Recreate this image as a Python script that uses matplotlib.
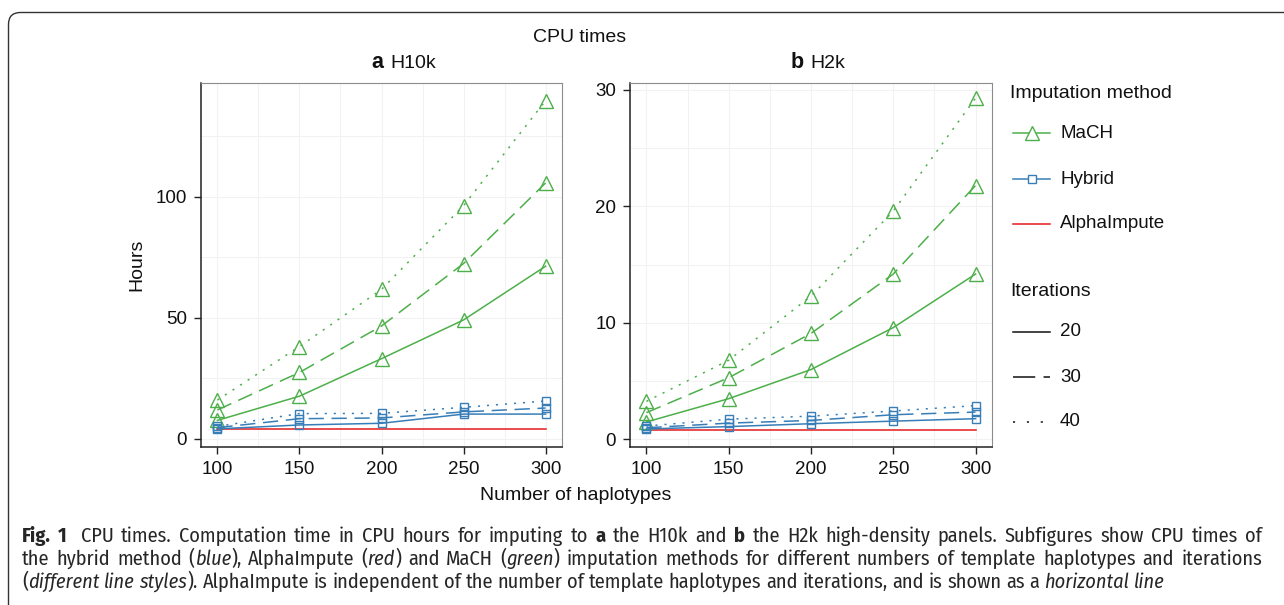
import matplotlib
matplotlib.use("Agg")
import matplotlib.pyplot as plt
from matplotlib.lines import Line2D
from matplotlib.patches import FancyBboxPatch
from matplotlib import font_manager

# ---------------- data ----------------
haplotypes = [100, 150, 200, 250, 300]
iterations = [20, 30, 40]

mach_h10k_20 = [7.5, 17.5, 33.0, 49.0, 71.2]
mach_h10k_30 = [11.8, 27.3, 46.5, 72.3, 105.6]
mach_h10k_40 = [15.9, 38.0, 61.6, 96.2, 139.6]
hybrid_h10k_20 = [4.0, 5.6, 6.3, 10.1, 10.1]
hybrid_h10k_30 = [4.5, 8.2, 8.5, 11.0, 12.6]
hybrid_h10k_40 = [5.0, 10.3, 10.4, 12.9, 15.5]
alpha_h10k = [3.8, 3.8, 3.8, 3.8, 3.8]

mach_h2k_20 = [1.5, 3.5, 6.0, 9.6, 14.2]
mach_h2k_30 = [2.3, 5.3, 9.1, 14.2, 21.8]
mach_h2k_40 = [3.27, 6.8, 12.3, 19.6, 29.3]
hybrid_h2k_20 = [0.9, 1.1, 1.35, 1.57, 1.78]
hybrid_h2k_30 = [1.0, 1.4, 1.63, 2.12, 2.35]
hybrid_h2k_40 = [1.15, 1.74, 2.0, 2.44, 2.9]
alpha_h2k = [0.77, 0.77, 0.77, 0.77, 0.77]

panel_titles = [("a", "H10k"), ("b", "H2k")]
yticks_a = [0, 50, 100]
yticks_b = [0, 10, 20, 30]
xticks = [100, 150, 200, 250, 300]
method_labels = ["MaCH", "Hybrid", "AlphaImpute"]

caption_lines = [
    [("Fig. 1", "b"), ("  CPU times. Computation time in CPU hours for imputing to ", "n"), ("a", "b"),
     (" the H10k and ", "n"), ("b", "b"), (" the H2k high-density panels. Subfigures show CPU times of", "n")],
    [("the hybrid method (", "n"), ("blue", "i"), ("), AlphaImpute (", "n"), ("red", "i"),
     (") and MaCH (", "n"), ("green", "i"),
     (") imputation methods for different numbers of template haplotypes and iterations", "n")],
    [("(", "n"), ("different line styles", "i"),
     ("). AlphaImpute is independent of the number of template haplotypes and iterations, and is shown as a ", "n"),
     ("horizontal line", "i")],
]

# ---------------- styles ----------------
GREEN = "#4DAF4A"
BLUE = "#377EB8"
RED = "#E41A1C"
W, H = 1284, 605
DPI = 100
plt.rcParams["lines.scale_dashes"] = False
plt.rcParams["font.family"] = ["Liberation Sans", "DejaVu Sans"]
FS = 13.5

ls_map = {20: "-", 30: (0, (11, 5.5)), 40: (0, (1.5, 5))}

fig = plt.figure(figsize=(W / DPI, H / DPI), dpi=DPI)


def px_axes(left, top, right, bottom):
    return fig.add_axes([left / W, 1 - bottom / H, (right - left) / W, (bottom - top) / H])


def style_axes(ax, yticks, ylim):
    ax.set_xlim(90, 310)
    ax.set_ylim(*ylim)
    ax.set_xticks(xticks)
    ax.set_yticks(yticks)
    minor_x = [125, 175, 225, 275]
    minor_y = [(yticks[i] + yticks[i + 1]) / 2 for i in range(len(yticks) - 1)]
    if ylim[1] > yticks[-1] + (yticks[1] - yticks[0]) / 2:
        minor_y.append(yticks[-1] + (yticks[1] - yticks[0]) / 2)
    for x in xticks + minor_x:
        ax.axvline(x, color="#F2F2F2", lw=0.8, zorder=0)
    for y in yticks + minor_y:
        ax.axhline(y, color="#F2F2F2", lw=0.8, zorder=0)
    ax.tick_params(axis="both", direction="out", length=5, width=1, color="#222222",
                   labelsize=FS, pad=5, labelcolor="#111111")
    ax.spines["left"].set_color("#222222")
    ax.spines["bottom"].set_color("#222222")
    ax.spines["left"].set_linewidth(1.1)
    ax.spines["bottom"].set_linewidth(1.1)
    ax.spines["top"].set_color("#8C8C8C")
    ax.spines["right"].set_color("#8C8C8C")
    ax.spines["top"].set_linewidth(0.8)
    ax.spines["right"].set_linewidth(0.8)


def draw_panel(ax, mach, hybrid, alpha):
    for it, vals in zip(iterations, mach):
        ax.plot(haplotypes, vals, color=GREEN, lw=1.1, ls=ls_map[it], marker="^", ms=9.5,
                mfc="none", mec=GREEN, mew=1.0, zorder=3)
    for it, vals in zip(iterations, hybrid):
        ax.plot(haplotypes, vals, color=BLUE, lw=1.1, ls=ls_map[it], marker="s", ms=6,
                mfc="none", mec=BLUE, mew=1.0, zorder=3)
    ax.plot(haplotypes, alpha, color=RED, lw=1.1, zorder=2)


ax_a = px_axes(201, 83, 562, 447)
ax_b = px_axes(630, 83, 992, 447)
draw_panel(ax_a, [mach_h10k_20, mach_h10k_30, mach_h10k_40],
           [hybrid_h10k_20, hybrid_h10k_30, hybrid_h10k_40], alpha_h10k)
draw_panel(ax_b, [mach_h2k_20, mach_h2k_30, mach_h2k_40],
           [hybrid_h2k_20, hybrid_h2k_30, hybrid_h2k_40], alpha_h2k)
style_axes(ax_a, yticks_a, (-3.5, 146.9))
style_axes(ax_b, yticks_b, (-0.65, 30.6))

# ---------------- overlay in pixel coords ----------------
ov = fig.add_axes([0, 0, 1, 1], zorder=-5)
ov.set_xlim(0, W)
ov.set_ylim(H, 0)
ov.axis("off")
ov.add_patch(FancyBboxPatch((8.5, 12.5), 1320, 640, boxstyle="round,pad=0,rounding_size=12",
                            fc="white", ec="#333333", lw=1.0))

ov2 = fig.add_axes([0, 0, 1, 1], zorder=5)
ov2.set_xlim(0, W)
ov2.set_ylim(H, 0)
ov2.axis("off")
ov2.patch.set_alpha(0)

ov2.text(580, 38, "CPU times", ha="center", va="center", fontsize=FS + 0.5, color="#111111")
for (letter, name), cx in zip(panel_titles, [392, 812]):
    ov2.text(cx - 2, 63, letter + " ", ha="right", va="center", fontsize=FS + 2,
             fontweight="bold", color="#111111")
    ov2.text(cx - 2, 63, name, ha="left", va="center", fontsize=FS + 0.5, color="#111111")

ov2.text(137, 265, "Hours", rotation=90, ha="center", va="center", fontsize=FS + 0.5, color="#111111")
ov2.text(576, 495, "Number of haplotypes", ha="center", va="center", fontsize=FS + 0.5, color="#111111")

# legend
ov2.text(1010, 93, "Imputation method", ha="left", va="center", fontsize=FS + 0.5, color="#111111")
leg_y = [133, 179, 224]
leg_specs = [(GREEN, "^", 9.5), (BLUE, "s", 6), (RED, None, 0)]
for y, (c, m, ms), lab in zip(leg_y, leg_specs, method_labels):
    ov2.add_line(Line2D([1013, 1050], [y, y], color=c, lw=1.1))
    if m:
        ov2.add_line(Line2D([1031.5], [y], marker=m, ms=ms, mfc="white", mec=c, mew=1.0, ls="none"))
    ov2.text(1060, y, lab, ha="left", va="center", fontsize=FS, color="#111111")
ov2.text(1010, 291, "Iterations", ha="left", va="center", fontsize=FS + 0.5, color="#111111")
for y, it in zip([332, 377, 422], iterations):
    ls = ls_map[it]
    if it == 30:
        ls = (0, (16, 6))
    if it == 40:
        ls = (0, (1.5, 8.5))
    ov2.add_line(Line2D([1013, 1050], [y, y], color="#111111", lw=1.1, ls=ls))
    ov2.text(1060, y, str(it), ha="left", va="center", fontsize=FS, color="#111111")

# ---------------- caption ----------------
names = {f.name for f in font_manager.fontManager.ttflist}
cap_family = None
for cand in ["Fira Sans Condensed", "Liberation Sans Narrow", "Roboto Condensed", "Open Sans Condensed",
             "Noto Sans Condensed", "Arial Narrow"]:
    if cand in names:
        cap_family = cand
        break
if cap_family is None:
    cap_family = "Liberation Sans"

renderer = fig.canvas.get_renderer()
CAP_COLOR = "#262626"


def style_kw(st, fs):
    kw = dict(fontsize=fs, family=cap_family, color=CAP_COLOR)
    if st == "b":
        kw["fontweight"] = "bold"
    if st == "i":
        kw["fontstyle"] = "italic"
    return kw


def measure(s, st, fs):
    t = ov2.text(0, 0, s, **style_kw(st, fs))
    w = t.get_window_extent(renderer).width
    t.remove()
    return w


def tokens(segs):
    """Split segments into (word, style) and ('', style) space markers."""
    out = []
    for s, st in segs:
        buf = ""
        for ch in s:
            if ch == " ":
                if buf:
                    out.append((buf, st))
                    buf = ""
                out.append((" ", st))
            else:
                buf += ch
        if buf:
            out.append((buf, st))
    return out


def layout(segs, fs):
    toks = tokens(segs)
    sp_cache = {}
    items = []
    for w, st in toks:
        if w == " ":
            if st not in sp_cache:
                sp_cache[st] = measure("x x", st, fs) - measure("xx", st, fs)
            items.append((None, st, sp_cache[st]))
        else:
            items.append((w, st, measure(w, st, fs)))
    return items


base_fs = 12.0
nat3 = sum(i[2] for i in layout(caption_lines[2], base_fs))
cap_fs = base_fs * (1146.0 / nat3) if nat3 > 0 else base_fs
cap_fs = min(cap_fs, 16.0)

justify = [True, True, False]
for segs, y, just in zip(caption_lines, [536, 559, 582], justify):
    items = layout(segs, cap_fs)
    natural = sum(i[2] for i in items)
    nsp = sum(1 for i in items if i[0] is None)
    extra = 0.0
    if just and nsp > 0:
        extra = (1240.0 - natural) / nsp
    x = 22
    for w, st, wd in items:
        if w is None:
            x += wd + extra
        else:
            ov2.text(x, y, w, ha="left", va="center", **style_kw(st, cap_fs))
            x += wd

fig.savefig("out.png", dpi=DPI)
